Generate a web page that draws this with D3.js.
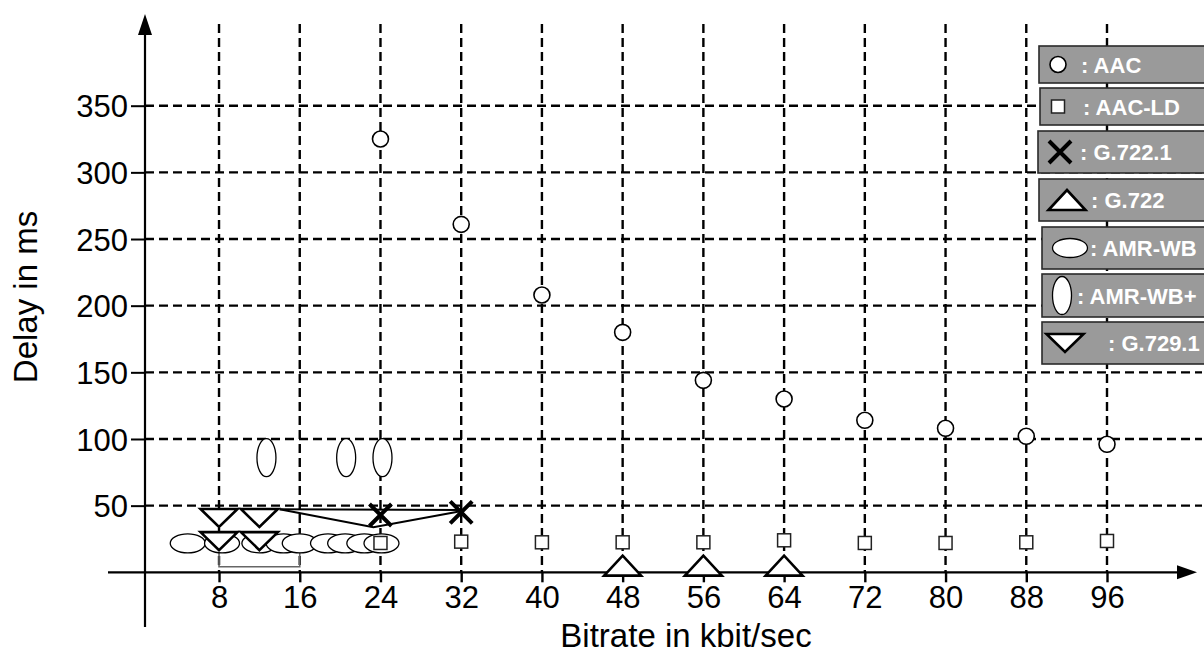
<!DOCTYPE html>
<html>
<head>
<meta charset="utf-8">
<script src="https://cdn.jsdelivr.net/npm/d3@7"></script>
<style>
  body { margin: 0; background: #fff; }
  svg { display: block; font-family: "Liberation Sans", Arial, sans-serif; }
</style>
</head>
<body>
<div id="chart"></div>
<script>
// data (bitrate in kbit/s, delay in ms)
const xTicks = [8, 16, 24, 32, 40, 48, 56, 64, 72, 80, 88, 96];
const yTicks = [50, 100, 150, 200, 250, 300, 350];

const aacRate = [24, 32, 40, 48, 56, 64, 72, 80, 88, 96];
const aacDelay = [325, 261, 208, 180, 144, 130, 114, 108, 102, 96];

const aacLdRate = [24, 32, 40, 48, 56, 64, 72, 80, 88, 96];
const aacLdDelay = [22, 23, 22.5, 22.5, 22.5, 24, 22, 22, 22.5, 23.5];

const g7221Rate = [24, 32];
const g7221Delay = [43, 45];

const g722Rate = [48, 56, 64];
const g722Delay = [5, 5, 5];

const amrWbRate = [4.9, 8.3, 12.0, 14.4, 16.0, 18.8, 20.5, 22.4, 24.1];
const amrWbDelay = [21.7, 21.7, 21.7, 21.7, 21.7, 21.7, 21.7, 21.7, 21.7];

const amrWbPlusRate = [12.7, 20.6, 24.2];
const amrWbPlusDelay = [86, 86, 86];

const g7291Rate = [8, 12, 8, 12];
const g7291Delay = [40.7, 40.7, 23.4, 23.4];

// thin connector lines near the 50 ms line
const linkA = [[14, 47.3], [32.2, 46.7]];
const linkB = [[14, 47.3], [23.3, 33.8], [32.2, 46.2]];

// gray bracket under the low-rate cluster
const bracketRate = [8, 16];
const bracketDelay = [22, 4.2];

const legendNames = [': AAC', ': AAC-LD', ': G.722.1', ': G.722', ': AMR-WB', ': AMR-WB+', ': G.729.1'];
const legendSymbols = ['circle', 'square', 'cross', 'triUp', 'ellH', 'ellV', 'triDown'];

const W = 1204, H = 657;
const svg = d3.select('#chart').append('svg').attr('width', W).attr('height', H);

const x = d3.scaleLinear().domain([0, 96]).range([138.3, 1107]);
const y = d3.scaleLinear().domain([0, 350]).range([572.3, 105.7]);
const axisX = 145, axisY = y(0);

// grid
const grid = svg.append('g')
  .attr('stroke', '#000').attr('stroke-width', 2.4).attr('stroke-dasharray', '9,5');
grid.selectAll('line.v').data(xTicks).join('line')
  .attr('x1', d => x(d)).attr('x2', d => x(d)).attr('y1', 24).attr('y2', axisY);
grid.selectAll('line.h').data(yTicks).join('line')
  .attr('x1', axisX).attr('x2', 1202).attr('y1', d => y(d)).attr('y2', d => y(d));

// axes with d3 tick labels
const xAxis = d3.axisBottom(x).tickValues(xTicks).tickSize(10).tickPadding(4);
const gx = svg.append('g').attr('transform', `translate(0,${axisY})`).call(xAxis);
gx.select('.domain').remove();
gx.selectAll('line').attr('stroke-width', 2.4);
gx.selectAll('text').attr('font-size', 31).attr('font-family', '"Liberation Sans", Arial, sans-serif')
  .attr('fill', '#000').attr('dy', '0.7em');

const yAxis = d3.axisLeft(y).tickValues(yTicks).tickSize(14).tickPadding(3);
const gy = svg.append('g').attr('transform', `translate(${axisX},0)`).call(yAxis);
gy.select('.domain').remove();
gy.selectAll('line').attr('stroke-width', 2);
gy.selectAll('text').attr('font-size', 31).attr('font-family', '"Liberation Sans", Arial, sans-serif')
  .attr('fill', '#000').attr('dy', '0.36em');

// axis lines with arrow heads
svg.append('line').attr('x1', 108).attr('x2', 1180).attr('y1', axisY).attr('y2', axisY)
  .attr('stroke', '#000').attr('stroke-width', 2.2);
svg.append('path').attr('d', `M1197,${axisY} L1177,${axisY - 7} L1177,${axisY + 7} Z`).attr('fill', '#000');
svg.append('line').attr('x1', axisX).attr('x2', axisX).attr('y1', 32).attr('y2', 627)
  .attr('stroke', '#000').attr('stroke-width', 2.2);
svg.append('path').attr('d', `M${axisX},14 L${axisX - 7},35 L${axisX + 7},35 Z`).attr('fill', '#000');

svg.append('text').attr('x', 686).attr('y', 647).attr('text-anchor', 'middle')
  .attr('font-size', 33).text('Bitrate in kbit/sec');
svg.append('text').attr('transform', 'translate(37,297) rotate(-90)').attr('text-anchor', 'middle')
  .attr('font-size', 33).text('Delay in ms');

// marker shapes, centred on 0,0
function marker(sel, type) {
  sel.each(function () {
    const g = d3.select(this);
    if (type === 'circle') {
      g.append('circle').attr('r', 8).attr('fill', '#fff').attr('stroke', '#000').attr('stroke-width', 1.6);
    } else if (type === 'square') {
      g.append('rect').attr('x', -6.5).attr('y', -6.5).attr('width', 13).attr('height', 13)
        .attr('fill', '#fff').attr('stroke', '#222').attr('stroke-width', 1.5);
    } else if (type === 'cross') {
      g.append('path').attr('d', 'M-11,-11L11,11M-11,11L11,-11')
        .attr('stroke', '#000').attr('stroke-width', 4).attr('fill', 'none');
    } else if (type === 'triUp') {
      g.append('path').attr('d', 'M-18.5,10L0,-10L18.5,10Z')
        .attr('fill', '#fff').attr('stroke', '#000').attr('stroke-width', 2.6);
    } else if (type === 'triDown') {
      g.append('path').attr('d', 'M-18.5,-9L18.5,-9L0,9Z')
        .attr('fill', '#fff').attr('stroke', '#000').attr('stroke-width', 2.6);
    } else if (type === 'ellH') {
      g.append('ellipse').attr('rx', 17.5).attr('ry', 9.5)
        .attr('fill', '#fff').attr('stroke', '#000').attr('stroke-width', 1.3);
    } else if (type === 'ellV') {
      g.append('ellipse').attr('rx', 9.5).attr('ry', 19)
        .attr('fill', '#fff').attr('stroke', '#000').attr('stroke-width', 1.3);
    }
  });
}

function series(rates, delays, type) {
  const pts = rates.map((r, i) => [r, delays[i]]);
  svg.append('g').selectAll('g').data(pts).join('g')
    .attr('transform', d => `translate(${x(d[0])},${y(d[1])})`)
    .call(marker, type);
}

// gray bracket
svg.append('path')
  .attr('d', `M${x(bracketRate[0])},${y(bracketDelay[0])}V${y(bracketDelay[1])}H${x(bracketRate[1])}V${y(bracketDelay[0])}`)
  .attr('fill', 'none').attr('stroke', '#666').attr('stroke-width', 1.6);

series(amrWbRate, amrWbDelay, 'ellH');
series(amrWbPlusRate, amrWbPlusDelay, 'ellV');

const line = d3.line().x(d => x(d[0])).y(d => y(d[1]));
[linkA, linkB].forEach(l => {
  svg.append('path').attr('d', line(l)).attr('fill', 'none').attr('stroke', '#000').attr('stroke-width', 2);
});

series(g7291Rate, g7291Delay, 'triDown');
series(g7221Rate, g7221Delay, 'cross');
series(aacLdRate, aacLdDelay, 'square');
series(aacRate, aacDelay, 'circle');
series(g722Rate, g722Delay, 'triUp');

// legend boxes (layout)
const legendTop = [46, 88, 131, 179, 227, 274, 322];
const legendH = [37, 37, 42, 42, 42, 43, 42];
const legendLeft = [1039, 1040, 1038, 1039, 1042, 1042, 1042];
const legendSymX = [1058, 1058, 1060, 1067, 1070, 1062, 1065];
const legendTextX = [1081, 1083, 1080, 1091, 1090, 1077, 1108];

const lg = svg.append('g').selectAll('g').data(legendNames).join('g');
lg.append('rect')
  .attr('x', (d, i) => legendLeft[i]).attr('y', (d, i) => legendTop[i])
  .attr('width', (d, i) => 1210 - legendLeft[i]).attr('height', (d, i) => legendH[i])
  .attr('fill', '#9a9a9a').attr('stroke', '#2a2a2a').attr('stroke-width', 1.6);
lg.append('g')
  .attr('transform', (d, i) => `translate(${legendSymX[i]},${legendTop[i] + legendH[i] / 2})`)
  .each(function (d, i) { d3.select(this).call(marker, legendSymbols[i]); });
lg.append('text')
  .attr('x', (d, i) => legendTextX[i]).attr('y', (d, i) => legendTop[i] + legendH[i] / 2 + 8)
  .attr('fill', '#fff').attr('font-weight', 'bold').attr('font-size', 22)
  .text(d => d);
</script>
</body>
</html>
